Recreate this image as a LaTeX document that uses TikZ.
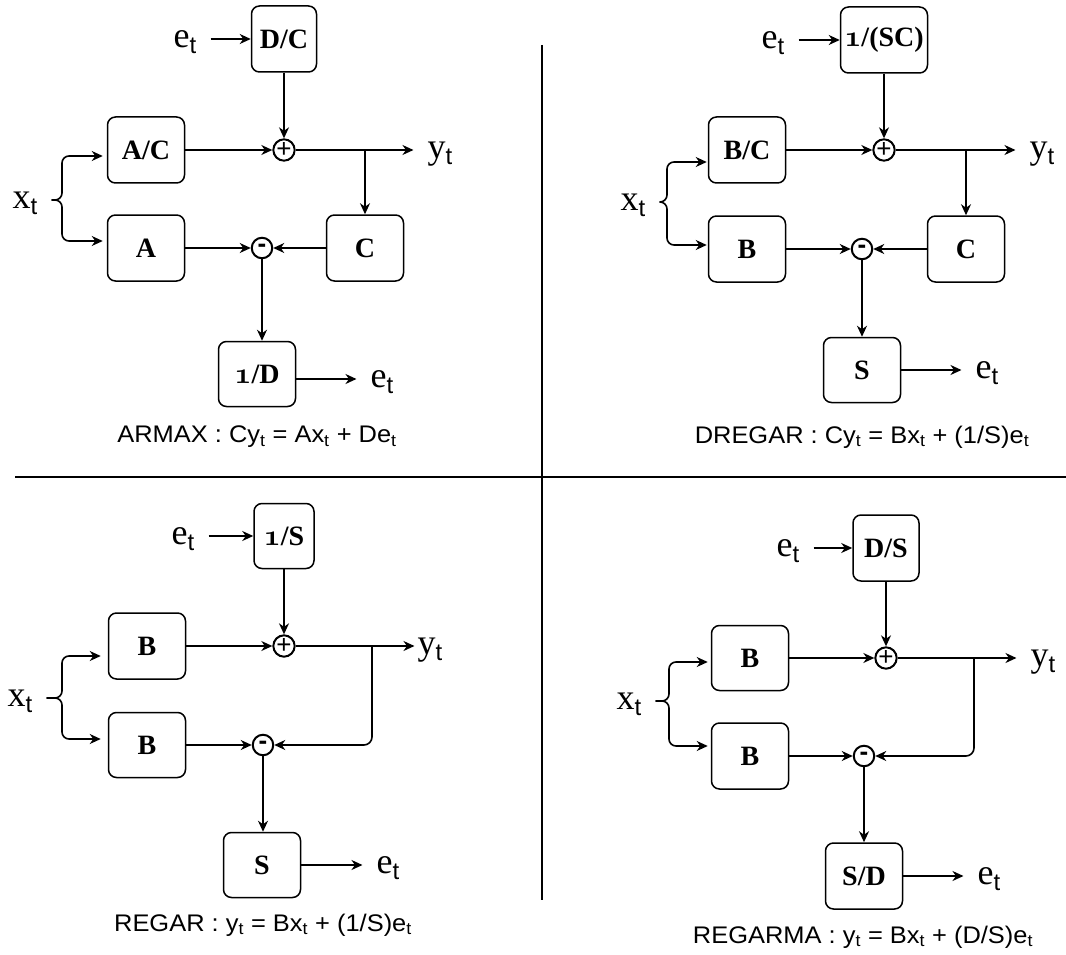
\documentclass[tikz,border=0pt]{standalone}
\usepackage{fontspec}
\setmainfont{Liberation Serif}
\newfontfamily\sansfont{Liberation Sans}
\newfontfamily\capfont[FakeStretch=1.06]{Liberation Sans}
\usepackage{tikz}
\usetikzlibrary{arrows.meta,positioning,calc}

\newcommand{\tsub}{\raisebox{-6pt}[0pt][0pt]{\sansfont\fontsize{24}{24}\selectfont t}}
\newcommand{\osone}{\scalebox{1.2}{\usefont{OML}{cmm}{b}{it}1}}

\begin{document}
\begin{tikzpicture}[
  x=1pt, y=-1pt,
  box/.style={draw, rounded corners=8pt, line width=1.5pt, minimum width=77pt, minimum height=66pt, inner sep=0pt, font=\bfseries\fontsize{28}{28}\selectfont},
  sum/.style={draw, circle, line width=2pt, minimum size=20.5pt, inner sep=0pt, font=\sansfont\fontsize{26}{26}\selectfont},
  sig/.style={inner xsep=14pt, inner ysep=1pt, text depth=0pt, font=\fontsize{36}{36}\selectfont},
  caption/.style={font=\capfont\fontsize{24}{24}\selectfont},
  arrow/.style={-{Stealth[length=11pt,width=10pt,inset=3.5pt]}, line width=1.6pt},
  brace/.style={arrow, rounded corners=7pt},
  divider/.style={line width=2.6pt}
]
\useasboundingbox (0,0) rectangle (1066,955);

% ARMAX
\node[sig] (ein1) at (185,39) {e\tsub};
\node[box, minimum width=65pt] (dc1) at (284,39) {D/C};
\node[box] (ac1) at (146,150) {A/C};
\node[sum] (plus1) at (284,150) {+};
\node[sig] (yout1) at (440,150) {y\tsub};
\node[box] (a1) at (146,248) {A};
\node[sum] (m1) at (262,248) {\textbf{-}};
\node[box] (c1) at (365,248) {C};
\node[box, minimum height=65pt] (d1) at (257,374) {\osone/D};
\node[sig] (eout1) at (382,379) {e\tsub};
\node[sig] (xin1) at (25,200) {x\tsub};
\coordinate (br1) at (62,200);
\node[caption] (cap1) at (257,437) {ARMAX : Cy\textsubscript{t} = Ax\textsubscript{t} + De\textsubscript{t}};

\draw[arrow] (ein1) -- (dc1);
\draw[arrow] (dc1) -- (plus1);
\draw[arrow] (ac1) -- (plus1);
\draw[arrow] (plus1) -- (yout1);
\draw[arrow] (c1.north |- plus1) -- (c1);
\draw[arrow] (a1) -- (m1);
\draw[arrow] (c1) -- (m1);
\draw[arrow] (m1) -- (m1 |- d1.north);
\draw[arrow] (d1.east |- eout1) -- (eout1);
\draw[brace] (xin1) -- (br1) |- ([xshift=-4pt,yshift=-6pt]ac1.west);
\draw[brace] (xin1) -- (br1) |- ([xshift=-4pt,yshift=7pt]a1.west);

% DREGAR
\node[sig] (ein2) at (773,40) {e\tsub};
\node[box, minimum width=87pt] (sc2) at (884,40) {\osone/(SC)};
\node[box] (bc2) at (747,150) {B/C};
\node[sum] (plus2) at (884,150) {+};
\node[sig] (yout2) at (1042,150) {y\tsub};
\node[box] (b2) at (747,249) {B};
\node[sum] (m2) at (862,249) {\textbf{-}};
\node[box] (c2) at (966,249) {C};
\node[box, minimum height=65pt] (s2) at (862,370) {S};
\node[sig] (eout2) at (987,370) {e\tsub};
\node[sig] (xin2) at (633,202) {x\tsub};
\coordinate (br2) at (667,202);
\node[caption] (cap2) at (862,437) {DREGAR : Cy\textsubscript{t} = Bx\textsubscript{t} + (1/S)e\textsubscript{t}};

\draw[arrow] (ein2) -- (sc2);
\draw[arrow] (sc2) -- (plus2);
\draw[arrow] (bc2) -- (plus2);
\draw[arrow] (plus2) -- (yout2);
\draw[arrow] (c2.north |- plus2) -- (c2);
\draw[arrow] (b2) -- (m2);
\draw[arrow] (c2) -- (m2);
\draw[arrow] (m2) -- (m2 |- s2.north);
\draw[arrow] (s2) -- (eout2);
\draw[brace] (xin2) -- (br2) |- ([xshift=-1pt,yshift=-12pt]bc2.west);
\draw[brace] (xin2) -- (br2) |- ([xshift=-1pt,yshift=4pt]b2.west);

% REGAR
\node[sig] (ein3) at (183,536) {e\tsub};
\node[box, minimum width=60pt, minimum height=65pt] (s13) at (284,536) {\osone/S};
\node[box] (b3t) at (147,646) {B};
\node[sum] (plus3) at (284,646) {+};
\node[sig, inner xsep=3pt] (yout3) at (430,646) {y\tsub};
\coordinate (sp3) at (372,646);
\node[box, minimum height=65pt] (b3b) at (147,745) {B};
\node[sum] (m3) at (263,745) {\textbf{-}};
\node[box, minimum height=65pt] (s3) at (262,865) {S};
\node[sig] (eout3) at (388,865) {e\tsub};
\node[sig] (xin3) at (20,698) {x\tsub};
\coordinate (br3) at (62,698);
\node[caption] (cap3) at (263,925) {REGAR : y\textsubscript{t} = Bx\textsubscript{t} + (1/S)e\textsubscript{t}};

\draw[arrow] (ein3) -- (s13);
\draw[arrow] (s13) -- (plus3);
\draw[arrow] (b3t) -- (plus3);
\draw[arrow] (plus3) -- (yout3);
\draw[arrow, rounded corners=8pt] (sp3) |- (m3);
\draw[arrow] (b3b) -- (m3);
\draw[arrow] (m3) -- (m3 |- s3.north);
\draw[arrow] (s3) -- (eout3);
\draw[brace] (xin3) -- (br3) |- ([xshift=-7pt,yshift=-10pt]b3t.west);
\draw[brace] (xin3) -- (br3) |- ([xshift=-7pt,yshift=6pt]b3b.west);

% REGARMA
\node[sig] (ein4) at (788,548) {e\tsub};
\node[box, minimum width=66pt] (ds4) at (886,548) {D/S};
\node[box, minimum height=65pt] (b4t) at (750,658) {B};
\node[sum] (plus4) at (886,658) {+};
\node[sig] (yout4) at (1043,658) {y\tsub};
\coordinate (sp4) at (974,658);
\node[box] (b4b) at (750,756) {B};
\node[sum] (m4) at (864,756) {\textbf{-}};
\node[box] (s4) at (864,876) {S/D};
\node[sig] (eout4) at (989,876) {e\tsub};
\node[sig] (xin4) at (629,701) {x\tsub};
\coordinate (br4) at (669,701);
\node[caption] (cap4) at (863,937) {REGARMA : y\textsubscript{t} = Bx\textsubscript{t} + (D/S)e\textsubscript{t}};

\draw[arrow] (ein4) -- (ds4);
\draw[arrow] (ds4) -- (plus4);
\draw[arrow] (b4t) -- (plus4);
\draw[arrow] (plus4) -- (yout4);
\draw[arrow, rounded corners=8pt] (sp4) |- (m4);
\draw[arrow] (b4b) -- (m4);
\draw[arrow] (m4) -- (s4);
\draw[arrow] (s4) -- (eout4);
\draw[brace] (xin4) -- (br4) |- ([xshift=-3pt,yshift=-4pt]b4t.west);
\draw[brace] (xin4) -- (br4) |- ([xshift=-3pt,yshift=10pt]b4b.west);

\draw[divider] (15,477) -- (1066,477);
\draw[divider] (542,45) -- (542,900);
\end{tikzpicture}
\end{document}
